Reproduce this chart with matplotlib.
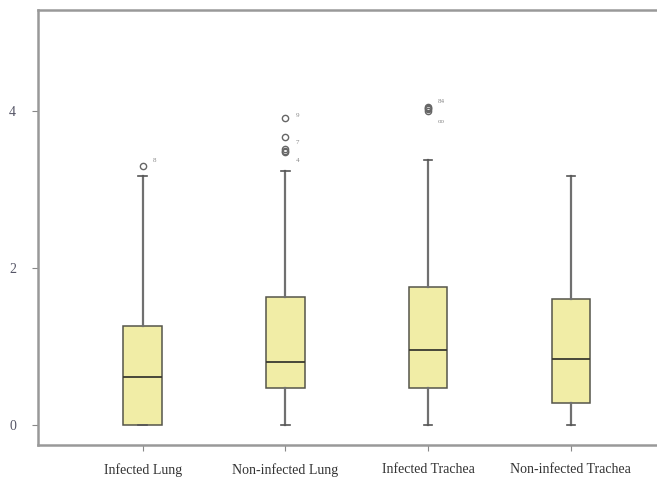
import matplotlib
matplotlib.use("Agg")
import matplotlib.pyplot as plt

groups = ["Infected Lung", "Non-infected Lung", "Infected Trachea", "Non-infected Trachea"]
whislo = [0.0, 0.0, 0.0, 0.0]
q1 = [0.0, 0.48, 0.48, 0.28]
med = [0.61, 0.80, 0.96, 0.84]
q3 = [1.27, 1.63, 1.76, 1.61]
whishi = [3.17, 3.24, 3.38, 3.17]
outliers = [
    [3.31],
    [3.91, 3.67, 3.48, 3.50, 3.52],
    [4.01, 4.03, 4.05, 4.04],
    [],
]
outlier_ids = [["8"], ["9", "7", "4"], ["84", "oo"], []]
outlier_id_y = [[3.37], [3.95, 3.60, 3.37], [4.12, 3.87], []]

plt.rcParams["font.family"] = ["Liberation Serif", "DejaVu Serif"]

fig = plt.figure(figsize=(6.57, 4.83), dpi=100)
ax = fig.add_axes([0.058, 0.079, 0.95, 0.9])

stats = []
for i, g in enumerate(groups):
    stats.append({"label": g, "whislo": whislo[i], "q1": q1[i], "med": med[i],
                  "q3": q3[i], "whishi": whishi[i], "fliers": outliers[i]})

ax.bxp(stats, positions=[1, 2, 3, 4], widths=0.27, capwidths=0.06,
       patch_artist=True,
       boxprops=dict(facecolor="#f1eda6", edgecolor="#55554a", linewidth=1.1),
       medianprops=dict(color="#3a3a30", linewidth=1.3),
       whiskerprops=dict(color="#707070", linewidth=1.6),
       capprops=dict(color="#555555", linewidth=1.2),
       flierprops=dict(marker="o", markersize=4.5, markerfacecolor="none",
                       markeredgecolor="#666666", markeredgewidth=1.0))

for i in range(len(groups)):
    for lab, yv in zip(outlier_ids[i], outlier_id_y[i]):
        ax.text(i + 1.07, yv, lab, fontsize=5, color="#888888", ha="left", va="center")

ax.set_xlim(0.268, 4.64)
ax.set_ylim(-0.25, 5.29)
ax.set_yticks([0, 2, 4])
ax.set_yticklabels(["0", "2", "4"], fontsize=10)
ax.set_xticks([1, 2, 3, 4])
ax.set_xticklabels(groups, fontsize=10)
ax.tick_params(axis="both", colors="#888888", length=4, width=0.8)
ax.tick_params(axis="y", pad=12)
ax.tick_params(axis="x", pad=9)
for lab in ax.get_yticklabels():
    lab.set_color("#555566")
for lab in ax.get_xticklabels():
    lab.set_color("#333333")

for side in ["left", "top", "bottom"]:
    ax.spines[side].set_color("#999999")
    ax.spines[side].set_linewidth(1.8)
ax.spines["right"].set_visible(False)

fig.savefig("out.png", dpi=100)
